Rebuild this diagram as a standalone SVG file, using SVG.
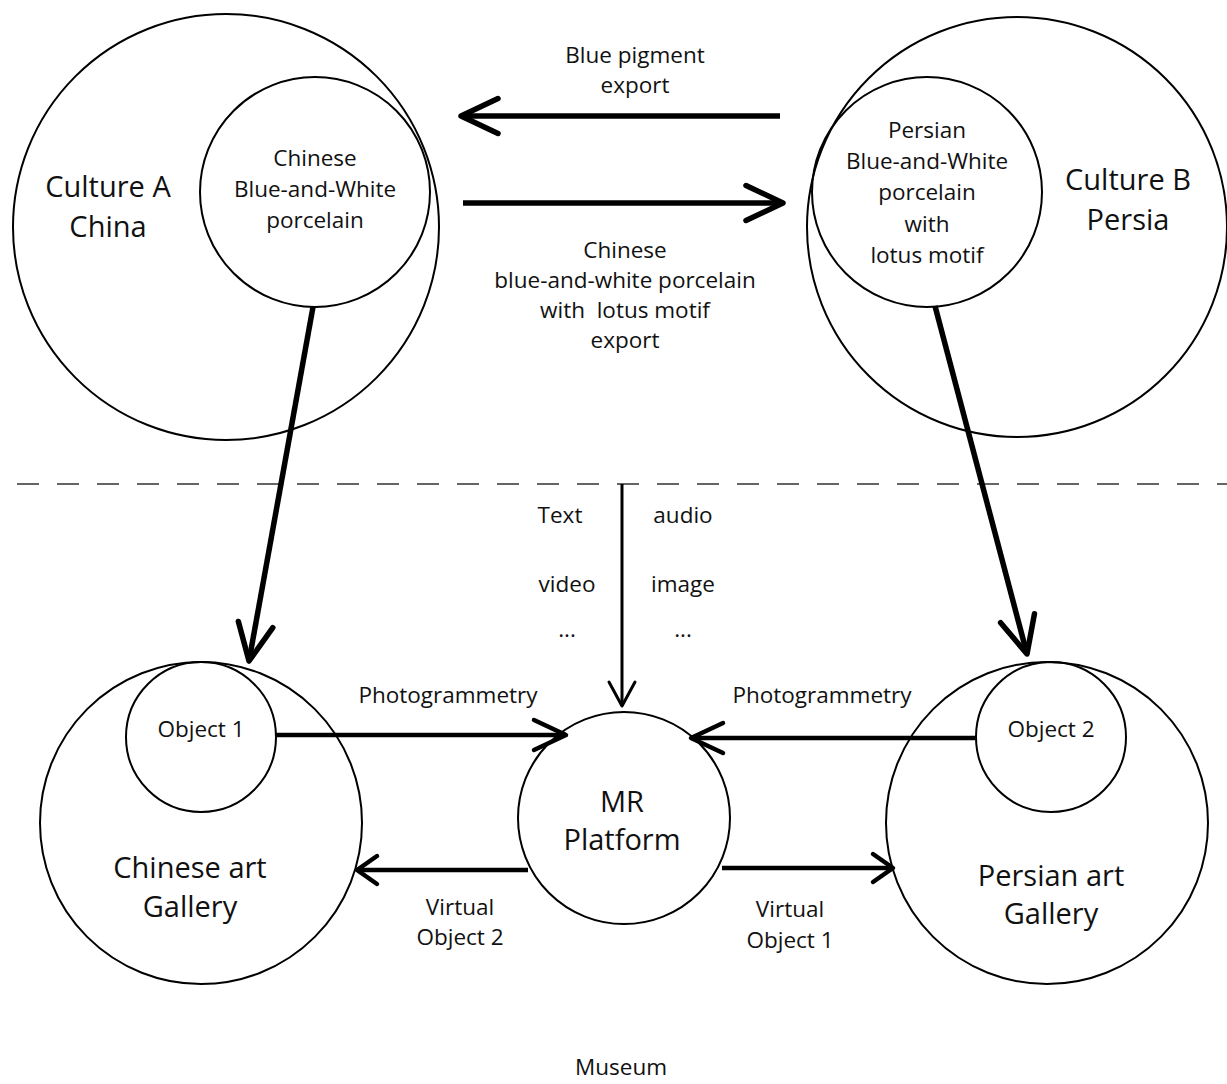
<svg xmlns="http://www.w3.org/2000/svg" width="1227" height="1084" viewBox="0 0 1227 1084">
<style>
  .c { fill: none; stroke: #000; stroke-width: 2; }
  text { font-family: "Open Sans", "Noto Sans", "DejaVu Sans", sans-serif; fill: #111; text-anchor: middle; }
  .t { font-size: 22.5px; }
  .big { font-size: 29px; }
  .pre { white-space: pre; }
  .a5 { fill: none; stroke: #000; stroke-width: 5.5; }
  .a4 { fill: none; stroke: #000; stroke-width: 4.5; }
  .a3 { fill: none; stroke: #000; stroke-width: 3; }
  .dash { fill: none; stroke: #333; stroke-width: 1.6; stroke-dasharray: 22 18; }
</style>
<defs>
  <marker id="chevL" markerUnits="userSpaceOnUse" orient="auto" overflow="visible" markerWidth="10" markerHeight="10">
    <path d="M -37 -17.5 L 0 0 L -37 17.5" fill="none" stroke="#000" stroke-width="5.5" stroke-linecap="round" stroke-linejoin="round"/>
  </marker>
  <marker id="chevM" markerUnits="userSpaceOnUse" orient="auto" overflow="visible" markerWidth="10" markerHeight="10">
    <path d="M -32 -15 L 0 0 L -32 15" fill="none" stroke="#000" stroke-width="4.5" stroke-linecap="round" stroke-linejoin="round"/>
  </marker>
  <marker id="chevS" markerUnits="userSpaceOnUse" orient="auto" overflow="visible" markerWidth="10" markerHeight="10">
    <path d="M -20 -14 L 0 0 L -20 14" fill="none" stroke="#000" stroke-width="4.5" stroke-linecap="round" stroke-linejoin="round"/>
  </marker>
  <marker id="chevT" markerUnits="userSpaceOnUse" orient="auto" overflow="visible" markerWidth="10" markerHeight="10">
    <path d="M -24 -13 L 0 0 L -24 13" fill="none" stroke="#000" stroke-width="3" stroke-linecap="round" stroke-linejoin="round"/>
  </marker>
</defs>
<rect width="1227" height="1084" fill="#fff"/>

<g id="culture-a">
  <circle class="c" cx="226" cy="227" r="213"/>
  <text class="big" x="108" y="197">Culture A</text>
  <text class="big" x="108" y="237">China</text>
</g>
<g id="chinese-porcelain">
  <circle class="c" cx="315" cy="192" r="115"/>
  <text class="t" x="315" y="166">Chinese</text>
  <text class="t" x="315" y="197">Blue-and-White</text>
  <text class="t" x="315" y="228">porcelain</text>
</g>
<g id="culture-b">
  <circle class="c" cx="1017" cy="227" r="210"/>
  <text class="big" x="1128" y="190">Culture B</text>
  <text class="big" x="1128" y="230">Persia</text>
</g>
<g id="persian-porcelain">
  <circle class="c" cx="927" cy="192" r="115"/>
  <text class="t" x="927" y="138">Persian</text>
  <text class="t" x="927" y="169">Blue-and-White</text>
  <text class="t" x="927" y="200">porcelain</text>
  <text class="t" x="927" y="232">with</text>
  <text class="t" x="927" y="263">lotus motif</text>
</g>

<g id="chinese-gallery">
  <circle class="c" cx="201" cy="823" r="161"/>
  <text class="big" x="190" y="878">Chinese art</text>
  <text class="big" x="190" y="917">Gallery</text>
</g>
<g id="object-1">
  <circle class="c" cx="201" cy="737" r="75"/>
  <text class="t" x="201" y="737">Object 1</text>
</g>
<g id="mr-platform">
  <circle class="c" cx="624" cy="818" r="106"/>
  <text class="big" x="622" y="812">MR</text>
  <text class="big" x="622" y="850">Platform</text>
</g>
<g id="persian-gallery">
  <circle class="c" cx="1047" cy="823" r="161"/>
  <text class="big" x="1051" y="886">Persian art</text>
  <text class="big" x="1051" y="924">Gallery</text>
</g>
<g id="object-2">
  <circle class="c" cx="1051" cy="737" r="75"/>
  <text class="t" x="1051" y="737">Object 2</text>
</g>

<g id="connectors">
  <line class="dash" x1="17" y1="484" x2="1227" y2="484"/>
  <line class="a5" x1="780" y1="116" x2="461" y2="116" marker-end="url(#chevL)"/>
  <line class="a5" x1="463" y1="203" x2="783" y2="203" marker-end="url(#chevL)"/>
  <line class="a5" x1="313" y1="307" x2="249" y2="661" marker-end="url(#chevL)"/>
  <line class="a5" x1="935" y1="306" x2="1027" y2="654" marker-end="url(#chevL)"/>
  <line class="a3" x1="622" y1="484" x2="622" y2="706" marker-end="url(#chevT)"/>
  <line class="a4" x1="276" y1="735" x2="566" y2="735" marker-end="url(#chevM)"/>
  <line class="a4" x1="976" y1="738" x2="691" y2="738" marker-end="url(#chevM)"/>
  <line class="a4" x1="528" y1="870" x2="357" y2="870" marker-end="url(#chevS)"/>
  <line class="a4" x1="722" y1="868" x2="893" y2="868" marker-end="url(#chevS)"/>
</g>

<g id="labels">
  <text class="t" x="635" y="63">Blue pigment</text>
  <text class="t" x="635" y="93">export</text>
  <text class="t" x="625" y="258">Chinese</text>
  <text class="t" x="625" y="288">blue-and-white porcelain</text>
  <text class="t pre" x="625" y="318">with  lotus motif</text>
  <text class="t" x="625" y="348">export</text>
  <text class="t" x="560" y="523">Text</text>
  <text class="t" x="567" y="592">video</text>
  <text class="t" x="567" y="637">...</text>
  <text class="t" x="683" y="523">audio</text>
  <text class="t" x="683" y="592">image</text>
  <text class="t" x="683" y="637">...</text>
  <text class="t" x="448" y="703">Photogrammetry</text>
  <text class="t" x="822" y="703">Photogrammetry</text>
  <text class="t" x="460" y="915">Virtual</text>
  <text class="t" x="460" y="945">Object 2</text>
  <text class="t" x="790" y="917">Virtual</text>
  <text class="t" x="790" y="948">Object 1</text>
  <text class="t" x="621" y="1075">Museum</text>
</g>
</svg>
